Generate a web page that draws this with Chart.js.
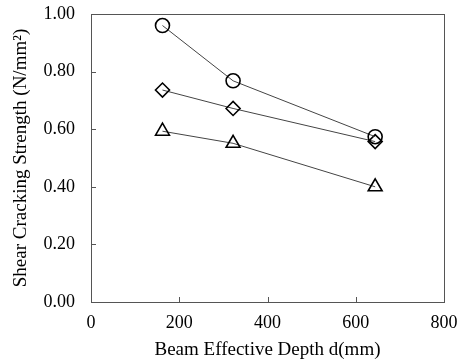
<!DOCTYPE html>
<html>
<head>
<meta charset="utf-8">
<script src="https://cdn.jsdelivr.net/npm/chart.js@4"></script>
<style>
  html, body { margin: 0; padding: 0; background: #fff; }
  #wrap { width: 457px; height: 363px; }
</style>
</head>
<body>
<div id="wrap"><canvas id="chart"></canvas></div>
<script>
// beam effective depth d (mm)
const depths = [162, 322, 644];
// shear cracking strength (N/mm2) per marker series
const circleVals = [0.96, 0.768, 0.574];
const diamondVals = [0.736, 0.672, 0.557];
const triangleVals = [0.593, 0.551, 0.40];
const xTicks = [0, 200, 400, 600, 800];
const yTicks = [0, 0.2, 0.4, 0.6, 0.8, 1.0];

const TICK_FONT = { family: '"Liberation Serif", "Times New Roman", serif', size: 18 };
const TITLE_FONT = { family: '"Liberation Serif", "Times New Roman", serif', size: 19 };

function makeSet(vals, style, radius) {
    return {
        data: depths.map((d, i) => ({ x: d, y: vals[i] })),
        borderColor: '#444',
        borderWidth: 1,
        pointStyle: style,
        pointRadius: radius,
        pointBorderColor: '#000',
        pointBorderWidth: 1.6,
        pointBackgroundColor: 'rgba(0,0,0,0)',
        showLine: true,
        tension: 0
    };
}

// frame + inward tick marks
const framePlugin = {
    id: 'frame',
    afterDraw(chart) {
        const { ctx, chartArea: a, scales } = chart;
        ctx.save();
        ctx.strokeStyle = '#555';
        ctx.lineWidth = 1;
        ctx.strokeRect(a.left + 0.5, a.top + 0.5, a.right - a.left, a.bottom - a.top);
        ctx.beginPath();
        xTicks.forEach(v => {
            const px = Math.round(scales.x.getPixelForValue(v)) + 0.5;
            ctx.moveTo(px, a.bottom);
            ctx.lineTo(px, a.bottom - 5);
        });
        yTicks.forEach(v => {
            const py = Math.round(scales.y.getPixelForValue(v)) + 0.5;
            ctx.moveTo(a.left, py);
            ctx.lineTo(a.left + 5, py);
        });
        ctx.stroke();
        ctx.restore();
    }
};

new Chart(document.getElementById('chart'), {
    type: 'scatter',
    data: {
        datasets: [
            makeSet(circleVals, 'circle', 7),
            makeSet(diamondVals, 'rectRot', 7),
            makeSet(triangleVals, 'triangle', 8)
        ]
    },
    options: {
        responsive: true,
        maintainAspectRatio: false,
        animation: false,
        layout: { padding: { left: 0, right: 13, top: 14, bottom: 0 } },
        plugins: {
            legend: { display: false },
            tooltip: { enabled: false }
        },
        scales: {
            x: {
                type: 'linear',
                min: 0,
                max: 800,
                afterBuildTicks: s => { s.ticks = xTicks.map(v => ({ value: v })); },
                afterFit: s => {
                    s.height = 61;
                    s.paddingLeft = 0;
                    s.paddingRight = 0;
                },
                grid: { display: false, drawTicks: false },
                border: { display: false },
                ticks: {
                    color: '#000',
                    font: TICK_FONT,
                    padding: 10,
                    maxRotation: 0,
                    callback: v => String(v)
                },
                title: {
                    display: true,
                    text: 'Beam Effective Depth d(mm)',
                    color: '#000',
                    font: TITLE_FONT,
                    padding: { top: 0, bottom: 2 }
                }
            },
            y: {
                min: 0,
                max: 1,
                afterBuildTicks: s => { s.ticks = yTicks.map(v => ({ value: v })); },
                afterFit: s => {
                    s.width = 91;
                    s.paddingTop = 0;
                    s.paddingBottom = 0;
                },
                grid: { display: false, drawTicks: false },
                border: { display: false },
                ticks: {
                    color: '#000',
                    font: TICK_FONT,
                    padding: 16,
                    callback: v => Number(v).toFixed(2)
                },
                title: {
                    display: true,
                    text: 'Shear Cracking Strength (N/mm²)',
                    color: '#000',
                    font: TITLE_FONT,
                    padding: { top: 10, bottom: 0 }
                }
            }
        }
    },
    plugins: [framePlugin]
});
</script>
</body>
</html>
